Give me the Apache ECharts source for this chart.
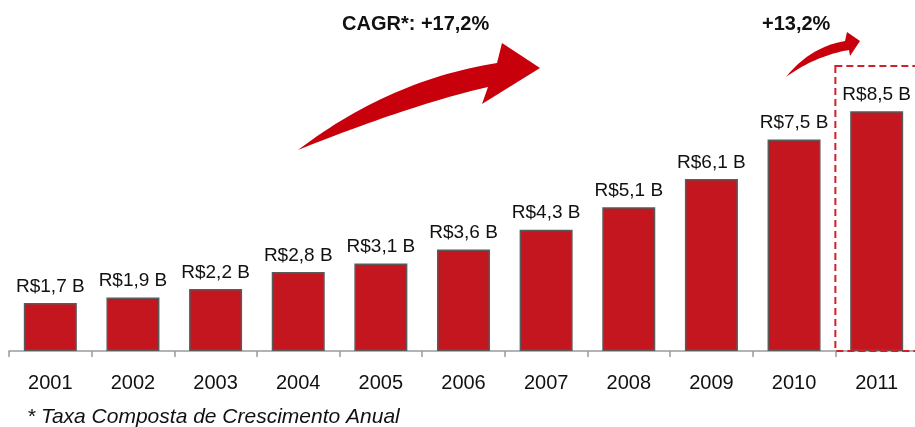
<!DOCTYPE html>
<html>
<head>
<meta charset="utf-8">
<script src="https://cdn.jsdelivr.net/npm/echarts@6/dist/echarts.min.js"></script>
<style>
  html, body { margin: 0; padding: 0; background: #fff; overflow: hidden; }
  #chart { width: 925px; height: 427px; }
</style>
</head>
<body>
<div id="chart"></div>
<script>
// Receita anual (R$ bilhões)
const years = ['2001', '2002', '2003', '2004', '2005', '2006', '2007', '2008', '2009', '2010', '2011'];
const revenue = [1.7, 1.9, 2.2, 2.8, 3.1, 3.6, 4.3, 5.1, 6.1, 7.5, 8.5];
const cagrText = 'CAGR*: +17,2%';
const lastGrowthText = '+13,2%';
const footnote = '* Taxa Composta de Crescimento Anual';

const RED = '#c3161f';
const FONT = '"Liberation Sans", Arial, sans-serif';

// o gráfico continua um pouco além da borda direita da página
const chart = echarts.init(document.getElementById('chart'), null, { renderer: 'canvas' });

const fmt = v => 'R$' + String(v).replace('.', ',') + ' B';

chart.setOption({
  animation: false,
  grid: { left: 9, width: 909, top: 69, bottom: 76 },
  xAxis: {
    type: 'category',
    data: years,
    axisLine: { lineStyle: { color: '#9a9a9a', width: 1.5 } },
    axisTick: { show: true, length: 6, lineStyle: { color: '#9a9a9a', width: 1.5 } },
    axisLabel: { color: '#111', fontFamily: FONT, fontSize: 20, margin: 22 }
  },
  yAxis: {
    type: 'value', min: 0, max: 10,
    show: false, splitLine: { show: false }
  },
  series: [{
    type: 'bar',
    data: revenue,
    barWidth: 53,
    itemStyle: { color: RED, borderColor: '#5a5a5a', borderWidth: 1.5 },
    label: {
      show: true, position: 'top', distance: 7,
      color: '#111', fontFamily: FONT, fontSize: 19,
      formatter: p => fmt(p.value)
    }
  }]
});

// Contorno de seta curva: borda superior e inferior como curvas quadráticas
function quad(p0, c, p1, n) {
  const pts = [];
  for (let i = 0; i <= n; i++) {
    const t = i / n, u = 1 - t;
    pts.push([u * u * p0[0] + 2 * u * t * c[0] + t * t * p1[0],
              u * u * p0[1] + 2 * u * t * c[1] + t * t * p1[1]]);
  }
  return pts;
}
function arrow(tail, upCtrl, upEnd, headTop, tip, headBot, lowStart, lowCtrl) {
  return quad(tail, upCtrl, upEnd, 30)
    .concat([headTop, tip, headBot])
    .concat(quad(lowStart, lowCtrl, tail, 30));
}

// Destaque tracejado em torno do último ano
const xLeft = (chart.convertToPixel({ xAxisIndex: 0 }, years.length - 1) +
               chart.convertToPixel({ xAxisIndex: 0 }, years.length - 2)) / 2;
const yBase = chart.convertToPixel({ yAxisIndex: 0 }, 0);

chart.setOption({
  graphic: [
    {
      type: 'rect', z: 10,
      shape: { x: xLeft, y: 66, width: 120, height: yBase - 66 },
      style: { fill: 'none', stroke: '#d0202a', lineWidth: 2, lineDash: [7, 4] }
    },
    {
      // seta grande (CAGR do período)
      type: 'polygon', z: 5,
      shape: { points: arrow([298, 150], [390, 80], [497, 63], [502, 43], [540, 68], [482, 104], [488, 87], [410, 105]) },
      style: { fill: '#c8000c' }
    },
    {
      // seta pequena (crescimento do último ano)
      type: 'polygon', z: 5,
      shape: { points: arrow([786, 77], [810, 47], [845, 41], [847, 32], [860, 41], [850, 56], [849, 50], [815, 56]) },
      style: { fill: '#c8000c' }
    },
    {
      type: 'text', z: 6, left: 342, top: 14,
      style: { text: cagrText, font: 'bold 20px ' + FONT, fill: '#111' }
    },
    {
      type: 'text', z: 6, left: 762, top: 14,
      style: { text: lastGrowthText, font: 'bold 20px ' + FONT, fill: '#111' }
    },
    {
      type: 'text', z: 6, left: 27, top: 407,
      style: { text: footnote, font: 'italic 21px ' + FONT, fill: '#111' }
    }
  ]
});
</script>
</body>
</html>
